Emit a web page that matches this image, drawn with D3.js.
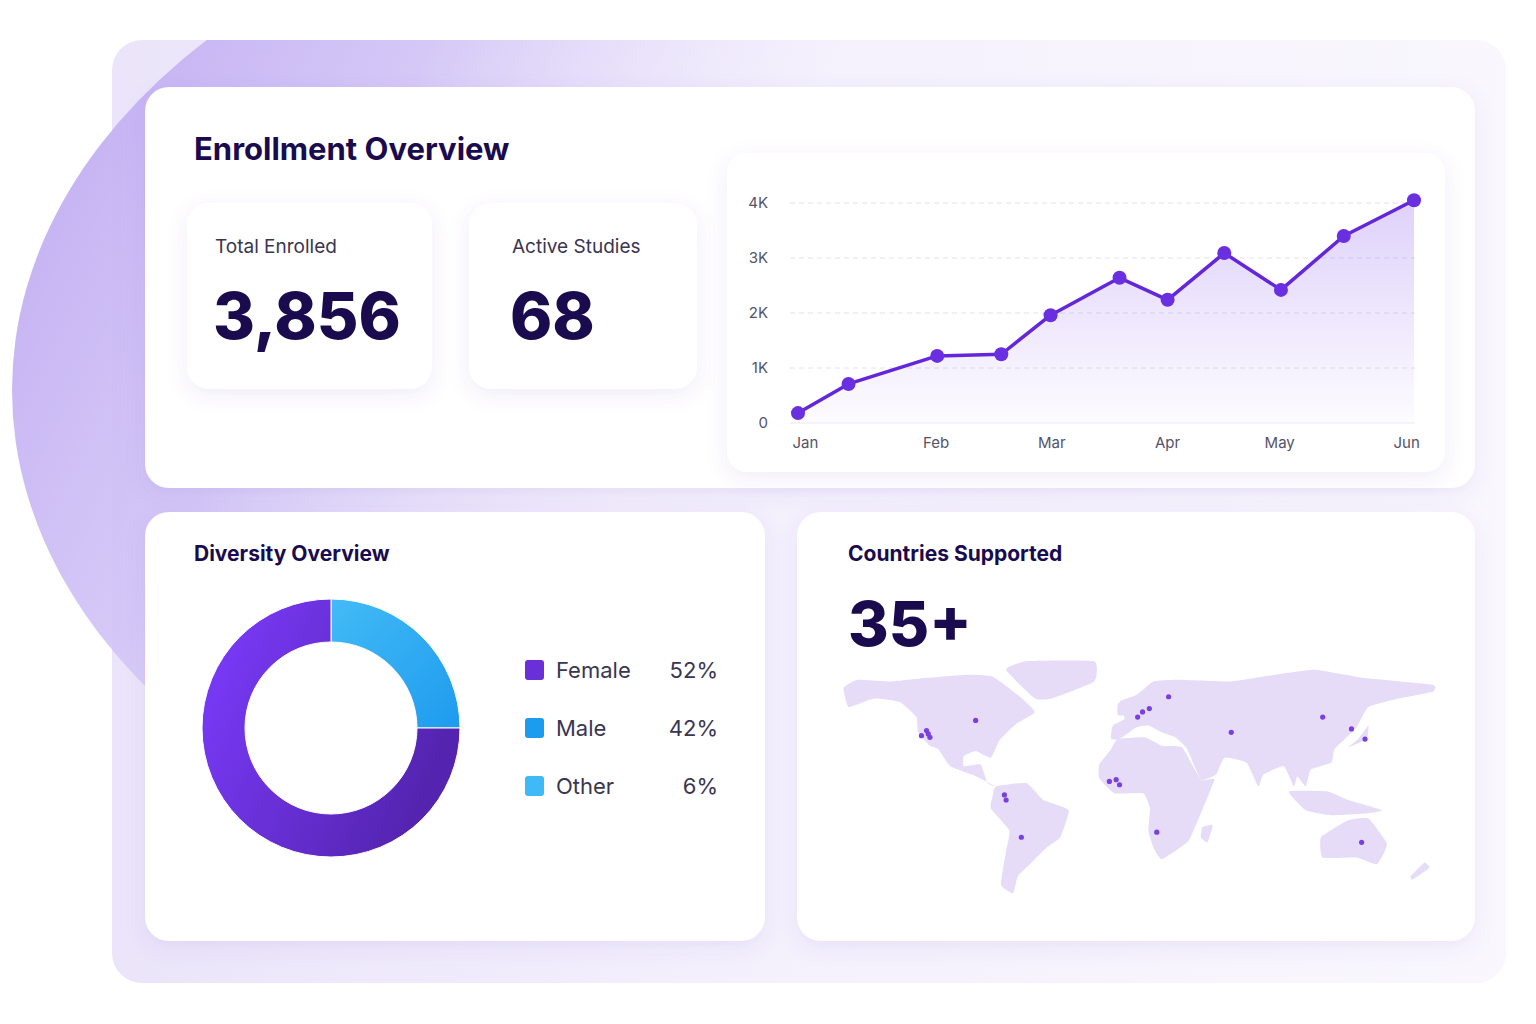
<!DOCTYPE html>
<html><head><meta charset="utf-8">
<script src="https://cdn.jsdelivr.net/npm/d3@7"></script>
<style>body{margin:0;background:#fff;font-family:Inter,"Noto Sans",sans-serif}</style>
</head><body><svg id="c" width="1536" height="1024"></svg>
<script>
// enrollment trend (x in month units, Jan = 0)
const trendX = [0, 0.41, 1.13, 1.65, 2.05, 2.61, 3.0, 3.46, 3.92, 4.43, 5.0];
const trendY = [180, 710, 1220, 1250, 1960, 2640, 2240, 3090, 2420, 3400, 4050];
const monthLabels = ["Jan", "Feb", "Mar", "Apr", "May", "Jun"];
const monthTickPos = [0.06, 1.12, 2.06, 3.0, 3.91, 4.94];
const yTicks = [0, 1000, 2000, 3000, 4000];
const kpiLabels = ["Total Enrolled", "Active Studies"];
const kpiValues = ["3,856", "68"];
const legendNames = ["Female", "Male", "Other"];
const legendPct = ["52%", "42%", "6%"];
const legendColors = ["#6a2fd8", "#1b9cef", "#40baf6"];
// ring as drawn: light-blue quarter, purple remainder
const ringShares = [25, 75];
const ringColors = ["url(#gBlue)", "url(#gPurple)"];
// rough land outlines (lon, lat)
const land = [
 [[-168,66],[-160,71],[-140,70],[-120,72],[-95,74],[-80,73],[-65,62],[-55,52],[-66,45],[-76,35],[-81,25],[-90,29],[-97,26],[-97,20],[-87,21],[-83,10],[-78,8],[-92,15],[-105,20],[-112,30],[-117,32],[-124,40],[-125,49],[-135,58],[-150,60],[-165,55]],
 [[-55,60],[-45,60],[-20,70],[-20,82],[-60,82],[-72,77]],
 [[-78,8],[-60,10],[-50,0],[-35,-6],[-40,-22],[-48,-28],[-58,-38],[-65,-45],[-68,-55],[-75,-50],[-72,-30],[-70,-18],[-81,-5],[-80,2]],
 [[-10,36],[-9,44],[-2,48],[-5,58],[5,62],[15,70],[30,71],[60,70],[80,73],[110,77],[140,72],[180,68],[180,64],[160,60],[142,55],[135,43],[127,35],[122,30],[120,22],[108,18],[105,8],[100,14],[98,8],[92,20],[80,15],[77,8],[70,22],[57,25],[52,15],[43,12],[35,30],[28,37],[20,40],[12,44],[5,43],[-5,36]],
 [[-17,21],[-10,30],[-6,36],[10,37],[20,32],[32,31],[43,12],[51,12],[40,-15],[35,-25],[20,-35],[15,-28],[12,-18],[13,-5],[9,4],[-8,4],[-17,13]],
 [[114,-22],[130,-12],[142,-11],[153,-26],[147,-38],[135,-34],[115,-34]],
 [[-6,50],[2,51],[-2,58],[-6,57]],
 [[130,31],[141,36],[142,44],[136,36]],
 [[44,-16],[50,-15],[47,-25],[43,-22]],
 [[95,5],[105,-6],[120,-9],[140,-8],[150,-6],[130,0],[118,5]],
 [[167,-45],[175,-37],[178,-40],[168,-47]]
];
const cities = [[-122,38],[-119,41],[-118,39],[-117,37],[-90,47],[24,61],[8.6,52],[12.6,54],[5.7,49],[61,40],[115,49],[140,36],[132,42],[-11,11],[-7,12],[-5,9],[-73,3],[-72,0],[-63,-22],[17,-19],[138,-25]];

const svg = d3.select("#c");
const defs = svg.append("defs");
function lg(id, stops, x2 = 1, y2 = 0) {
  const g = defs.append("linearGradient").attr("id", id).attr("x1", 0).attr("y1", 0).attr("x2", x2).attr("y2", y2);
  stops.forEach(([o, c, a]) => g.append("stop").attr("offset", o).attr("stop-color", c).attr("stop-opacity", a ?? 1));
}
lg("gBg", [[0, "#e2d9f8"], [0.5, "#f0ebfc"], [1, "#f7f4fd"]]);
lg("gBlob", [[0, "#bba4f1", 1], [0.3, "#d2c4f6", 0.9], [0.55, "#e9e2fb", 0]], 1, 0.35);
lg("gArea", [[0, "#8b5cf0", 0.28], [1, "#8b5cf0", 0.02]], 0, 1);
lg("gPurple", [[0, "#7d3cff"], [1, "#5424b0"]], 1, 0.4);
lg("gBlue", [[0, "#43bbf6"], [1, "#1e9bee"]], 1, 1);
const f = defs.append("filter").attr("id", "sh").attr("x", -0.1).attr("y", -0.1).attr("width", 1.2).attr("height", 1.3);
f.append("feDropShadow").attr("dx", 0).attr("dy", 6).attr("stdDeviation", 10).attr("flood-color", "#6a4bc4").attr("flood-opacity", 0.1);
defs.append("clipPath").attr("id", "clipTop").append("rect").attr("x", 0).attr("y", 40).attr("width", 1536).attr("height", 984);

// background
svg.append("rect").attr("x", 112).attr("y", 40).attr("width", 1394).attr("height", 943).attr("rx", 30).attr("fill", "url(#gBg)").attr("opacity", 0.7);
svg.append("ellipse").attr("clip-path", "url(#clipTop)").attr("cx", 760).attr("cy", 390).attr("rx", 748).attr("ry", 520).attr("fill", "url(#gBlob)");

function card(x, y, w, h, r = 24) {
  svg.append("rect").attr("x", x).attr("y", y).attr("width", w).attr("height", h).attr("rx", r).attr("fill", "#fff").attr("filter", "url(#sh)");
}
card(145, 87, 1330, 401);
card(145, 512, 620, 429);
card(797, 512, 678, 429);
card(727, 153, 718, 319, 20);

const dark = "#1a0b4f";
svg.append("text").attr("x", 194).attr("y", 160).attr("font-size", 31).attr("font-weight", 700).attr("fill", dark).text("Enrollment Overview");

// KPI cards
[[187, 245], [469, 228]].forEach(([x, w], i) => {
  card(x, 203, w, 186, 22);
  const tx = i === 0 ? 215 : 512;
  svg.append("text").attr("x", tx).attr("y", 253).attr("font-size", 19).attr("fill", "#3a3550").text(kpiLabels[i]);
  svg.append("text").attr("x", tx - 2).attr("y", 339).attr("font-size", 64).attr("font-weight", 800).attr("fill", dark).text(kpiValues[i]);
});

// line chart
const x = d3.scaleLinear().domain([0, 5]).range([798, 1414]);
const y = d3.scaleLinear().domain([0, 4000]).range([423, 203]);
svg.append("g").selectAll("line").data(yTicks).join("line")
  .attr("x1", 790).attr("x2", 1415).attr("y1", d => y(d)).attr("y2", d => y(d))
  .attr("stroke", d => d === 0 ? "#ece9f5" : "#e3e0ec").attr("stroke-dasharray", d => d === 0 ? null : "5,4");
svg.append("g").selectAll("text").data(yTicks).join("text")
  .attr("x", 768).attr("y", d => y(d) + 5).attr("text-anchor", "end").attr("font-size", 15).attr("fill", "#55526a")
  .text(d => d === 0 ? "0" : d / 1000 + "K");
svg.append("g").selectAll("text").data(monthLabels).join("text")
  .attr("x", (d, i) => x(monthTickPos[i])).attr("y", 448).attr("text-anchor", "middle").attr("font-size", 15).attr("fill", "#55526a").text(d => d);
const pts = trendX.map((v, i) => [v, trendY[i]]);
svg.append("path").datum(pts).attr("fill", "url(#gArea)")
  .attr("d", d3.area().x(d => x(d[0])).y0(y(0)).y1(d => y(d[1])));
svg.append("path").datum(pts).attr("fill", "none").attr("stroke", "#6326db").attr("stroke-width", 3.5).attr("stroke-linejoin", "round")
  .attr("d", d3.line().x(d => x(d[0])).y(d => y(d[1])));
svg.append("g").selectAll("circle").data(pts).join("circle")
  .attr("cx", d => x(d[0])).attr("cy", d => y(d[1])).attr("r", 7).attr("fill", "#6a2fe0");

// diversity
svg.append("text").attr("x", 194).attr("y", 561).attr("font-size", 21).attr("font-weight", 700).attr("fill", dark).text("Diversity Overview");
const pie = d3.pie().sort(null)(ringShares);
const arc = d3.arc().innerRadius(86).outerRadius(129);
svg.append("g").attr("transform", "translate(331,728)").selectAll("path").data(pie).join("path")
  .attr("d", arc).attr("fill", (d, i) => ringColors[i]).attr("stroke", "#fff").attr("stroke-width", 1);
const leg = svg.append("g").selectAll("g").data(legendNames).join("g").attr("transform", (d, i) => `translate(0,${670 + i * 58})`);
leg.append("rect").attr("x", 525).attr("y", -10).attr("width", 19).attr("height", 20).attr("rx", 3).attr("fill", (d, i) => legendColors[i]);
leg.append("text").attr("x", 556).attr("y", 8).attr("font-size", 22).attr("fill", "#3a3550").text(d => d);
leg.append("text").attr("x", 718).attr("y", 8).attr("text-anchor", "end").attr("font-size", 22).attr("fill", "#3a3550").text((d, i) => legendPct[i]);

// countries
svg.append("text").attr("x", 848).attr("y", 561).attr("font-size", 21).attr("font-weight", 700).attr("fill", dark).text("Countries Supported");
svg.append("text").attr("x", 848).attr("y", 646).attr("font-size", 62).attr("font-weight", 800).attr("fill", dark).text("35+");
const proj = d3.geoEquirectangular().scale(97).translate([1128, 800]);
const lp = d3.line().curve(d3.curveCardinalClosed.tension(0.6));
svg.append("g").selectAll("path").data(land).join("path")
  .attr("d", d => lp(d.map(p => proj(p)))).attr("fill", "#e6dcf8");
svg.append("g").selectAll("circle").data(cities).join("circle")
  .attr("cx", d => proj(d)[0]).attr("cy", d => proj(d)[1]).attr("r", 2.6).attr("fill", "#7a3fe0");
</script></body></html>
